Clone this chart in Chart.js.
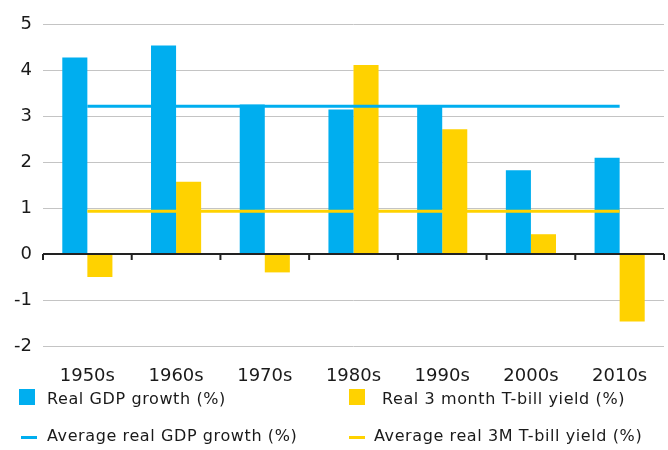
<!DOCTYPE html>
<html>
<head>
<meta charset="utf-8">
<script src="https://cdn.jsdelivr.net/npm/chart.js@4/dist/chart.umd.min.js"></script>
<style>
  html, body { margin: 0; padding: 0; background: #fff; }
  #wrap { position: relative; width: 668px; height: 450px; font-family: "DejaVu Sans", sans-serif; color: #1a1a1a; }
  canvas { position: absolute; left: 0; top: 0; }
  .lg { position: absolute; font-size: 16px; letter-spacing: 0.6px; line-height: 20px; white-space: nowrap; }
  .sq { position: absolute; width: 16px; height: 16px; }
  .ln { position: absolute; width: 16px; height: 3px; }
</style>
</head>
<body>
<div id="wrap">
  <canvas id="c" width="668" height="450"></canvas>
  <div class="sq" style="left:19px;top:389px;background:#00AEEF"></div>
  <div class="lg" style="left:47px;top:389px">Real GDP growth (%)</div>
  <div class="sq" style="left:349px;top:389px;background:#FFD200"></div>
  <div class="lg" style="left:382px;top:389px">Real 3 month T-bill yield (%)</div>
  <div class="ln" style="left:21px;top:436px;background:#00AEEF"></div>
  <div class="lg" style="left:47px;top:426px">Average real GDP growth (%)</div>
  <div class="ln" style="left:349px;top:436px;background:#FFD200"></div>
  <div class="lg" style="left:374px;top:426px">Average real 3M T-bill yield (%)</div>
</div>
<script>
const categories = ["1950s", "1960s", "1970s", "1980s", "1990s", "2000s", "2010s"];
const gdpGrowth = [4.27, 4.53, 3.25, 3.14, 3.23, 1.82, 2.09];
const tbillYield = [-0.50, 1.57, -0.40, 4.11, 2.71, 0.43, -1.47];
const avgGdp = [3.21, 3.21, 3.21, 3.21, 3.21, 3.21, 3.21];
const avgTbill = [0.93, 0.93, 0.93, 0.93, 0.93, 0.93, 0.93];
const yTicks = [-2, -1, 0, 1, 2, 3, 4, 5];

const BLUE = "#00AEEF", YELLOW = "#FFD200";

const zeroAxis = {
  id: "zeroAxis",
  afterDatasetsDraw(chart) {
    const { ctx, chartArea, scales } = chart;
    const y0 = scales.y.getPixelForValue(0);
    const n = categories.length;
    const cw = (chartArea.right - chartArea.left) / n;
    ctx.save();
    ctx.strokeStyle = "#222";
    ctx.lineWidth = 2;
    ctx.beginPath();
    ctx.moveTo(chartArea.left, y0);
    ctx.lineTo(chartArea.right, y0);
    for (let i = 0; i <= n; i++) {
      const x = i < n ? scales.x.getPixelForValue(i) - cw / 2 : chartArea.right;
      ctx.moveTo(x, y0);
      ctx.lineTo(x, y0 + 6);
    }
    ctx.stroke();
    ctx.restore();
  }
};

new Chart(document.getElementById("c"), {
  data: {
    labels: categories,
    datasets: [
      { type: "line", label: "Average real GDP growth (%)", data: avgGdp, borderColor: BLUE, borderWidth: 3, pointRadius: 0, order: 0 },
      { type: "line", label: "Average real 3M T-bill yield (%)", data: avgTbill, borderColor: YELLOW, borderWidth: 3, pointRadius: 0, order: 0 },
      { type: "bar", label: "Real GDP growth (%)", data: gdpGrowth, backgroundColor: BLUE, categoryPercentage: 0.565, barPercentage: 1.0, order: 1 },
      { type: "bar", label: "Real 3 month T-bill yield (%)", data: tbillYield, backgroundColor: YELLOW, categoryPercentage: 0.565, barPercentage: 1.0, order: 1 }
    ]
  },
  options: {
    responsive: false,
    animation: false,
    devicePixelRatio: 1,
    layout: { padding: { top: 24, right: 4, bottom: 64, left: 0 } },
    plugins: { legend: { display: false }, tooltip: { enabled: false } },
    scales: {
      x: {
        offset: true,
        grid: { display: false },
        border: { display: false },
        ticks: { color: "#1a1a1a", font: { family: "DejaVu Sans", size: 18 }, padding: 12, maxRotation: 0 },
        afterFit(s) { s.height = 40; }
      },
      y: {
        min: -2, max: 5,
        afterBuildTicks(s) { s.ticks = yTicks.map(v => ({ value: v })); },
        grid: {
          drawTicks: false,
          color: c => (c.tick && c.tick.value === 0) ? "rgba(0,0,0,0)" : "#c4c4c4",
          lineWidth: 1
        },
        border: { display: false },
        ticks: { color: "#1a1a1a", font: { family: "DejaVu Sans", size: 18 }, padding: 11 },
        afterFit(s) { s.width = 43; }
      }
    }
  },
  plugins: [zeroAxis]
});
</script>
</body>
</html>
